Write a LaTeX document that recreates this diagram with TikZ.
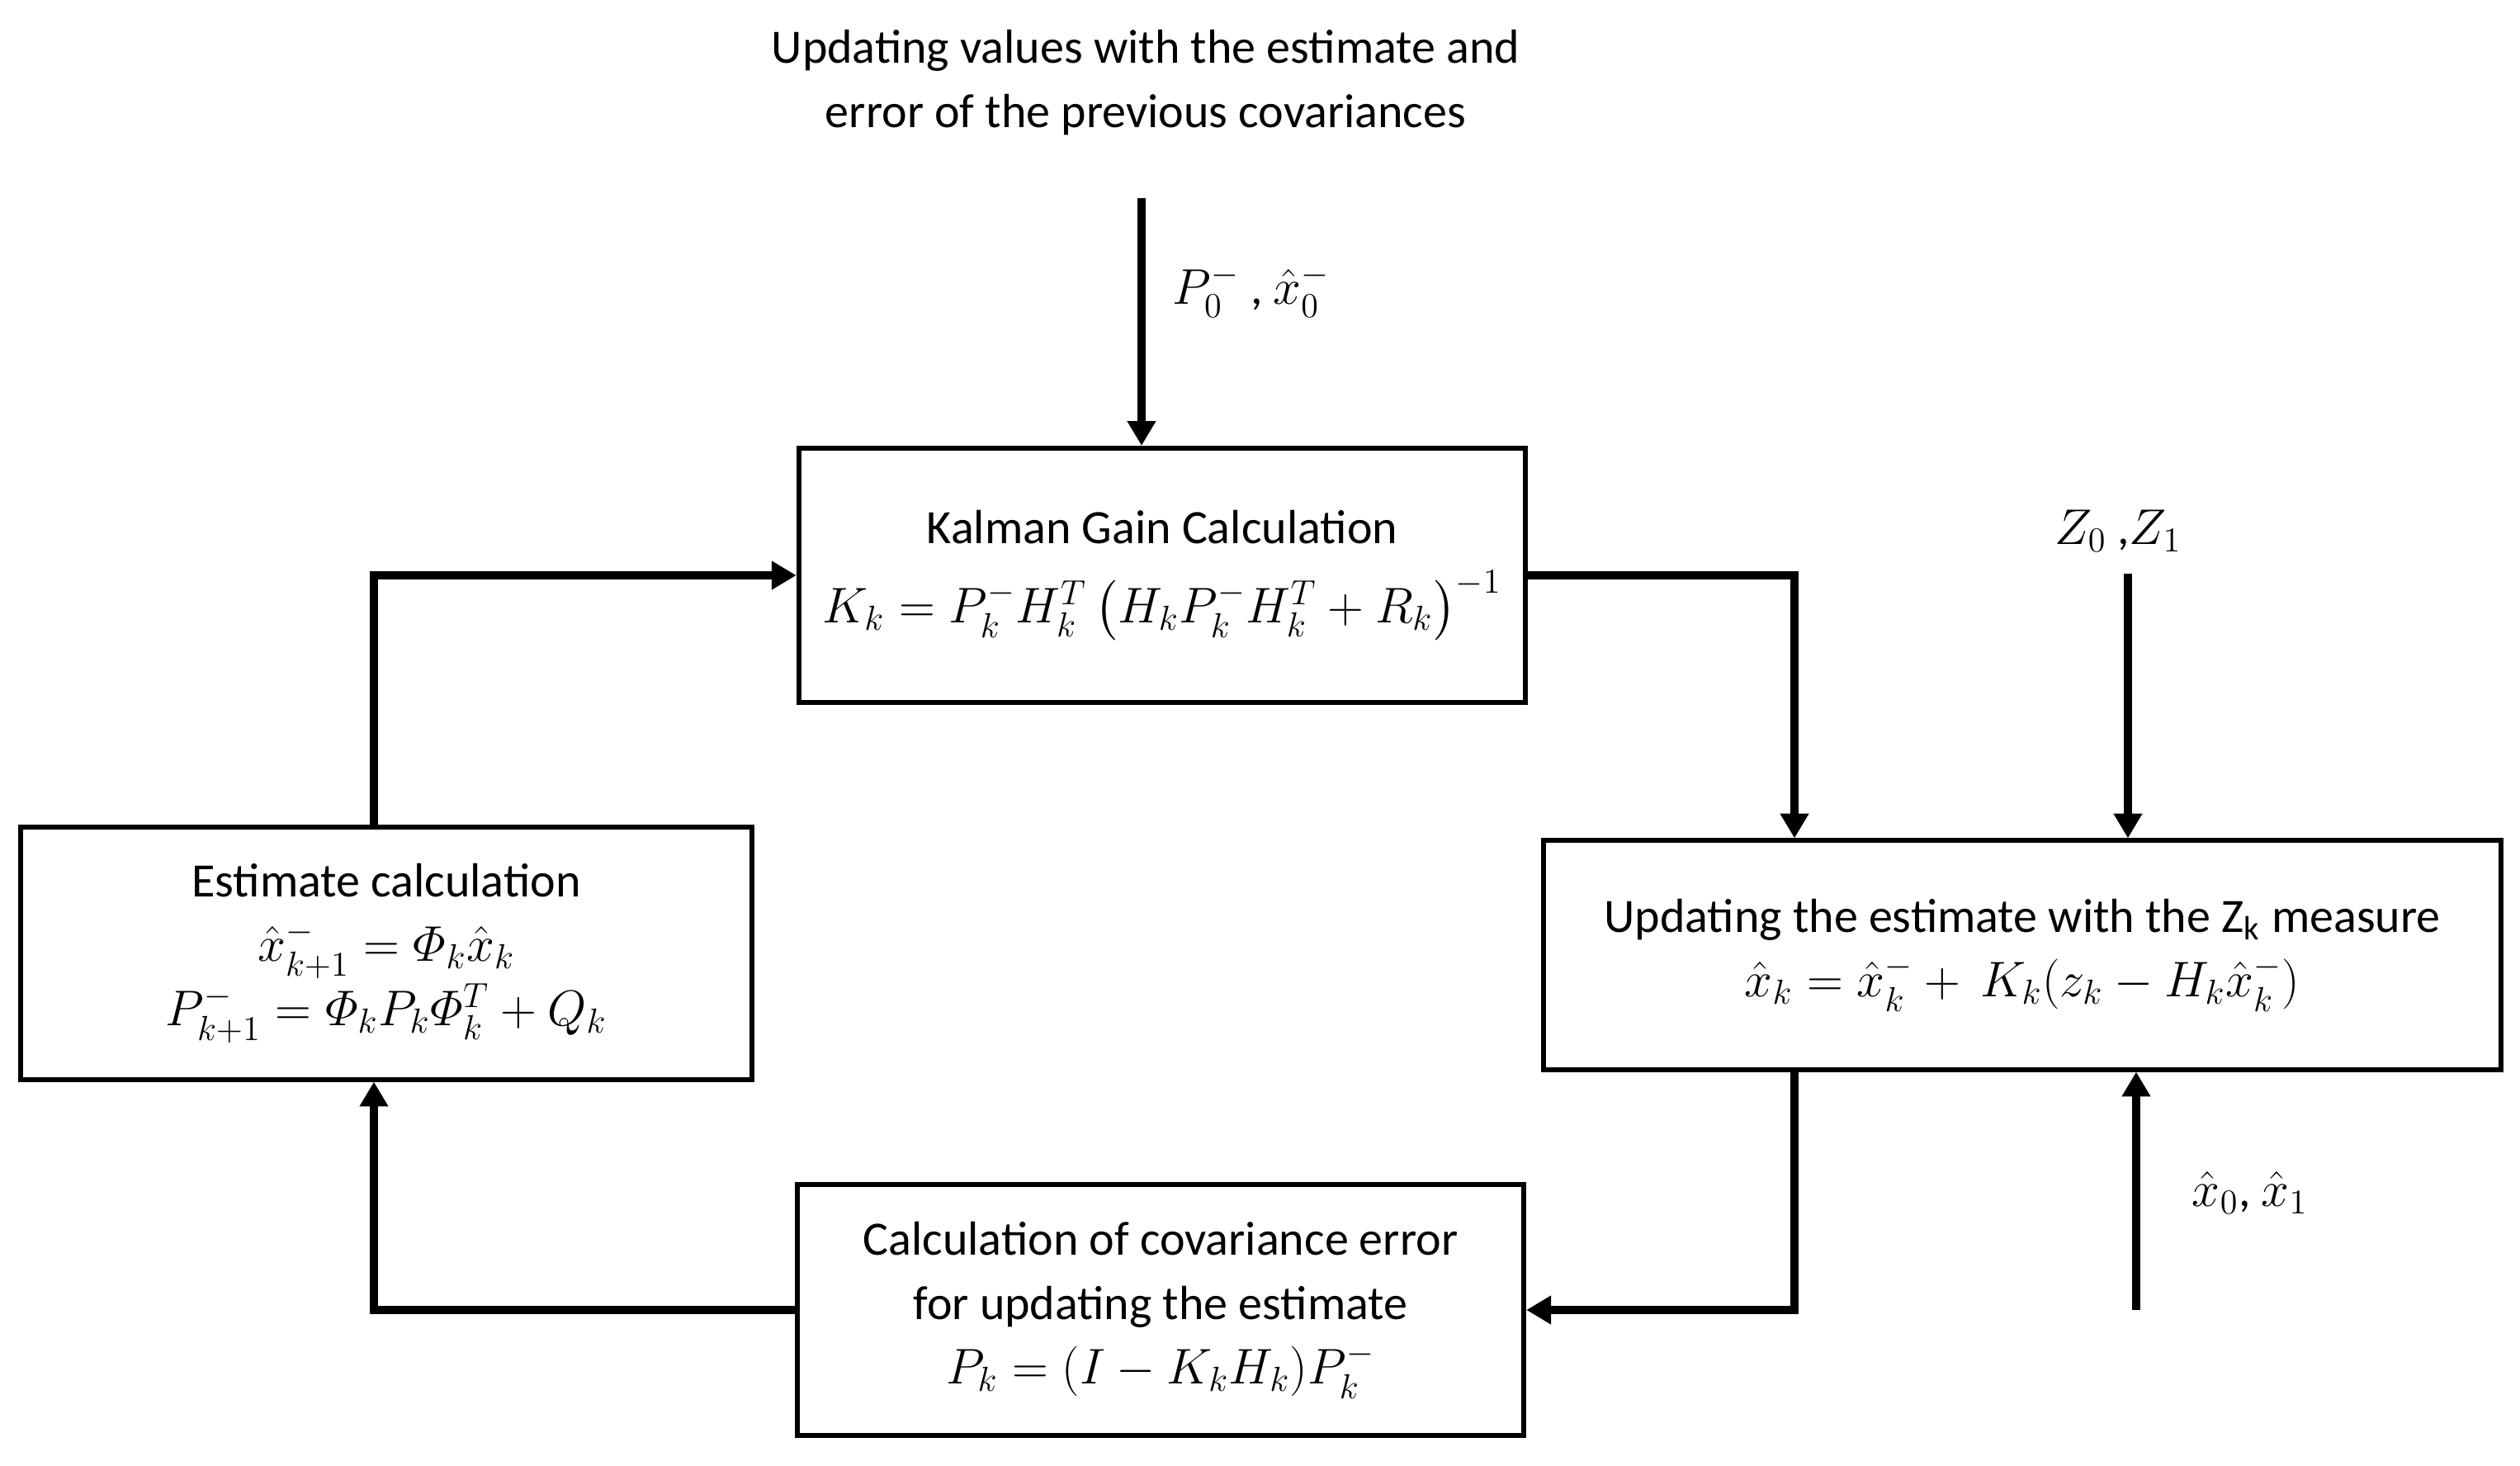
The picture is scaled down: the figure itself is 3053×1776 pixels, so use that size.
\documentclass[tikz,border=0pt]{standalone}
\usepackage{amsmath}
\usepackage{fontspec}
\setmainfont{Carlito}
\usetikzlibrary{arrows.meta}
\begin{document}
\begin{tikzpicture}[x=0.01cm,y=-0.01cm,
  txt/.style={font=\fontsize{16.5}{22.2}\selectfont, align=center, inner sep=0pt},
  box/.style={txt, draw, line width=1.7pt},
  conn/.style={line width=2.9pt, line join=miter},
  arr/.style={conn, -{Triangle[length=8.5pt,width=9.4pt]}}]
\useasboundingbox (0,0) rectangle (3053,1776);

% title
\node[txt] (title) at (1388,100) {Updating values with the estimate and\\error of the previous covariances};

% boxes
\node[box, minimum width=8.8cm, minimum height=3.08cm] (kal) at (1408,697)
  {Kalman Gain Calculation\\[5pt] $K_k = P_k^- H_k^T\left(H_k P_k^- H_k^T + R_k\right)^{-1}$};
\node[box, minimum width=8.86cm, minimum height=3.05cm] (est) at (468,1155)
  {Estimate calculation\\ $\hat{x}_{k+1}^- = \varPhi_k \hat{x}_k$\\ $P_{k+1}^- = \varPhi_k P_k \varPhi_k^T + Q_k$};
\node[box, minimum width=11.59cm, minimum height=2.77cm] (upd) at (2450,1157)
  {Updating the estimate with the Z\textsubscript{k} measure\\ $\hat{x}_k = \hat{x}_k^- +\, K_k(z_k - H_k\hat{x}_k^-)$};
\node[box, minimum width=8.8cm, minimum height=3.04cm] (cov) at (1406,1587)
  {Calculation of covariance error\\for updating the estimate\\ $P_k = (I - K_k H_k)P_k^-$};

% labels
\node[txt, anchor=west] (lp) at (1420,352) {$P_0^-$ , $\hat{x}_0^-$};
\node[txt] (lz) at (2566,643) {$Z_0$ ,$Z_1$};
\node[txt] (lx) at (2726,1445) {$\hat{x}_0$, $\hat{x}_1$};

% coordinates
\coordinate (topS) at (1383,240);
\coordinate (zS) at (2578,695);
\coordinate (xS) at (2588,1587);
\coordinate (cR) at (2174,689);
\coordinate (cL) at (453,695);

% connectors
\draw[arr] (topS) -- (topS |- kal.north);
\draw[arr] (zS) -- (zS |- upd.north);
\draw[arr] (xS) -- (xS |- upd.south);
\draw[arr] (kal.east) -| (cR |- upd.north);
\draw[arr] (cR |- upd.south) |- (cov.east);
\draw[arr] (cov.west) -| (cL |- est.south);
\draw[arr] (cL |- est.north) |- (kal.west);
\end{tikzpicture}
\end{document}
